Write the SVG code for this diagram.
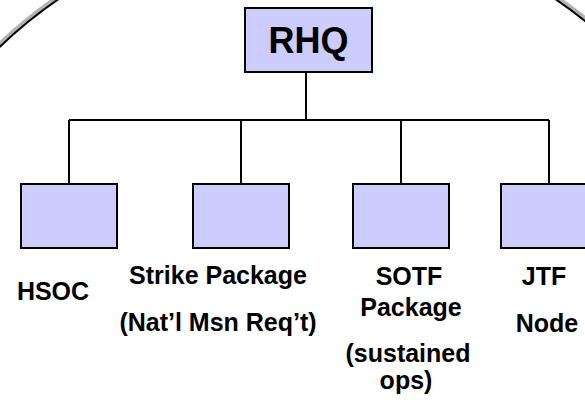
<svg xmlns="http://www.w3.org/2000/svg" width="585" height="400" viewBox="0 0 585 400">
  <style>
    .frame-shadow { fill: none; stroke: #b3b3b3; stroke-width: 3.5; }
    .frame { fill: none; stroke: #000; stroke-width: 2; }
    .box { fill: #ccccff; stroke: #000; stroke-width: 2; }
    .wire { fill: none; stroke: #000; stroke-width: 2; }
    .lbl { font-family: "Liberation Sans", Arial, sans-serif; font-weight: bold; font-size: 25px; fill: #000; text-anchor: middle; }
    .head { font-size: 36px; }
  </style>
  <rect width="585" height="400" fill="#fff"/>

  <!-- round frame of the slide -->
  <g id="frame">
    <circle class="frame-shadow" cx="307" cy="366" r="445.5"/>
    <circle class="frame" cx="307" cy="366" r="443"/>
  </g>

  <!-- connectors -->
  <g id="connectors">
    <path class="wire" d="M306 72 V120 M69 120 H549 M69 120 V184 M241 120 V184 M401 120 V184 M549 120 V184"/>
  </g>

  <g id="rhq">
    <rect class="box" x="245" y="8" width="127" height="64"/>
    <text class="lbl head" x="308.5" y="53">RHQ</text>
  </g>

  <g id="hsoc">
    <rect class="box" x="21" y="184" width="96" height="64"/>
    <text class="lbl" x="53" y="300">HSOC</text>
  </g>

  <g id="strike">
    <rect class="box" x="193" y="184" width="96" height="64"/>
    <text class="lbl" x="218" y="284">Strike Package</text>
    <text class="lbl" x="218" y="331">(Nat’l Msn Req’t)</text>
  </g>

  <g id="sotf">
    <rect class="box" x="353" y="184" width="96" height="64"/>
    <text class="lbl" x="409" y="285">SOTF</text>
    <text class="lbl" x="411" y="316">Package</text>
    <text class="lbl" x="408" y="362">(sustained</text>
    <text class="lbl" x="406" y="389">ops)</text>
  </g>

  <g id="jtf">
    <rect class="box" x="501" y="184" width="96" height="64"/>
    <text class="lbl" x="544" y="285">JTF</text>
    <text class="lbl" x="547" y="332">Node</text>
  </g>
</svg>
